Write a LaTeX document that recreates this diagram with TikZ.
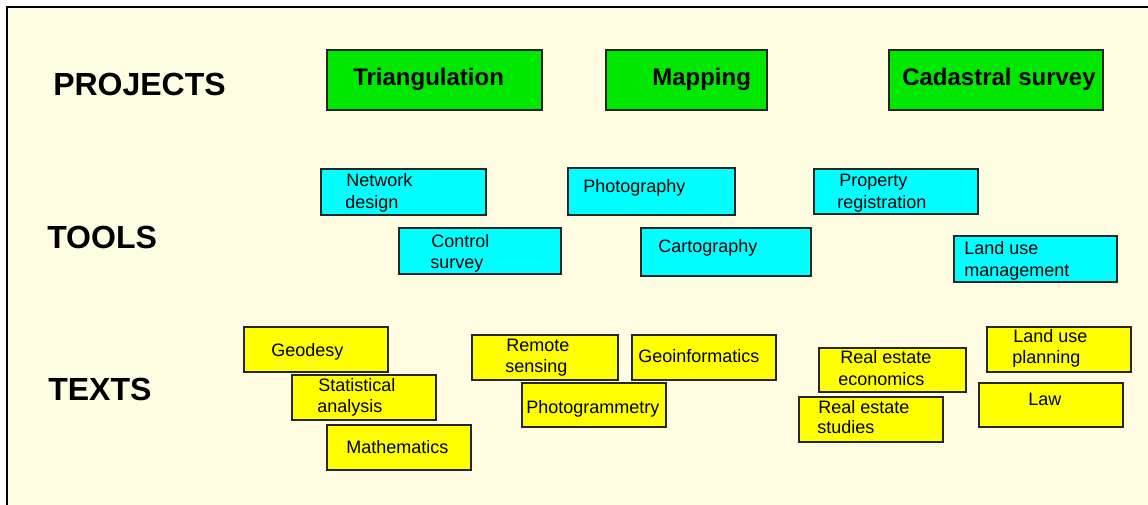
\documentclass[tikz,border=0pt]{standalone}
\usepackage{fontspec}
\setmainfont{Liberation Sans}
\definecolor{bgcream}{RGB}{255,253,225}
\definecolor{projgreen}{RGB}{0,232,0}
\definecolor{toolcyan}{RGB}{0,255,255}
\definecolor{textyellow}{RGB}{255,255,0}
\begin{document}
\begin{tikzpicture}[x=0.75pt,y=-0.75pt,
  box/.style={draw=black!85, line width=1.1pt, anchor=north west, inner sep=0pt, outer sep=0pt},
  gbox/.style={box, fill=projgreen},
  cbox/.style={box, fill=toolcyan},
  ybox/.style={box, fill=textyellow},
  head/.style={anchor=base west, inner sep=0pt, font=\fontsize{24}{28}\selectfont\bfseries},
  ptxt/.style={anchor=base west, inner sep=0pt, font=\fontsize{18}{21}\selectfont\bfseries},
  stxt/.style={anchor=base west, inner sep=0pt, font=\fontsize{13.5}{16}\selectfont}]
\useasboundingbox (0,0) rectangle (1148,504);
% frame
\fill[white] (0,0) rectangle (1148,504);
\fill[bgcream] (7,7) rectangle (1150,506);
\draw[line width=1.5pt] (7,506) -- (7,7) -- (1150,7);
% row labels
\node[head] (lproj) at (53,95) {PROJECTS};
\node[head] (ltool) at (47,248) {TOOLS};
\node[head] (ltext) at (48,400) {TEXTS};
% projects
\node[gbox, minimum width={215*0.75pt}, minimum height={60*0.75pt}] (tri) at (327,50) {};
\node[gbox, minimum width={161*0.75pt}, minimum height={60*0.75pt}] (map) at (606,50) {};
\node[gbox, minimum width={214*0.75pt}, minimum height={60*0.75pt}] (cad) at (889,50) {};
\node[ptxt] (ttri) at (353,85) {Triangulation};
\node[ptxt] (tmap) at (652,85) {Mapping};
\node[ptxt] (tcad) at (902,85) {Cadastral survey};
% tools
\node[cbox, minimum width={165*0.75pt}, minimum height={46*0.75pt}] (net) at (321,169) {};
\node[cbox, minimum width={167*0.75pt}, minimum height={47*0.75pt}] (pho) at (568,168) {};
\node[cbox, minimum width={164*0.75pt}, minimum height={45*0.75pt}] (pro) at (814,169) {};
\node[cbox, minimum width={162*0.75pt}, minimum height={46*0.75pt}] (con) at (399,228) {};
\node[cbox, minimum width={170*0.75pt}, minimum height={48*0.75pt}] (car) at (641,228) {};
\node[cbox, minimum width={163*0.75pt}, minimum height={46*0.75pt}] (lum) at (954,236) {};
\node[stxt] (tnet1) at (346,186) {Network};
\node[stxt] (tnet2) at (345,208) {design};
\node[stxt] (tpho) at (583,192) {Photography};
\node[stxt] (tpro1) at (839,186) {Property};
\node[stxt] (tpro2) at (837,208) {registration};
\node[stxt] (tcon1) at (431,247) {Control};
\node[stxt] (tcon2) at (430,268) {survey};
\node[stxt] (tcar) at (658,252) {Cartography};
\node[stxt] (tlum1) at (964,254) {Land use};
\node[stxt] (tlum2) at (964,276) {management};
% texts
\node[ybox, minimum width={144*0.75pt}, minimum height={45*0.75pt}] (geo) at (244,327) {};
\node[ybox, minimum width={144*0.75pt}, minimum height={45*0.75pt}] (sta) at (292,375) {};
\node[ybox, minimum width={144*0.75pt}, minimum height={45*0.75pt}] (mat) at (327,425) {};
\node[ybox, minimum width={146*0.75pt}, minimum height={45*0.75pt}] (rem) at (472,335) {};
\node[ybox, minimum width={144*0.75pt}, minimum height={45*0.75pt}] (gin) at (632,335) {};
\node[ybox, minimum width={144*0.75pt}, minimum height={44*0.75pt}] (phg) at (522,383) {};
\node[ybox, minimum width={147*0.75pt}, minimum height={44*0.75pt}] (ree) at (819,348) {};
\node[ybox, minimum width={144*0.75pt}, minimum height={45*0.75pt}] (res) at (799,397) {};
\node[ybox, minimum width={144*0.75pt}, minimum height={45*0.75pt}] (lup) at (987,327) {};
\node[ybox, minimum width={144*0.75pt}, minimum height={44*0.75pt}] (law) at (979,383) {};
\node[stxt] (tgeo) at (271,356) {Geodesy};
\node[stxt] (tsta1) at (318,391) {Statistical};
\node[stxt] (tsta2) at (317,412) {analysis};
\node[stxt] (tmat) at (346,453) {Mathematics};
\node[stxt] (trem1) at (506,351) {Remote};
\node[stxt] (trem2) at (505,372) {sensing};
\node[stxt] (tgin) at (638,362) {Geoinformatics};
\node[stxt] (tphg) at (526,413) {Photogrammetry};
\node[stxt] (tree1) at (840,363) {Real estate};
\node[stxt] (tree2) at (838,385) {economics};
\node[stxt] (tres1) at (818,413) {Real estate};
\node[stxt] (tres2) at (817,433) {studies};
\node[stxt] (tlup1) at (1013,342) {Land use};
\node[stxt] (tlup2) at (1012,363) {planning};
\node[stxt] (tlaw) at (1028,405) {Law};
\end{tikzpicture}
\end{document}
